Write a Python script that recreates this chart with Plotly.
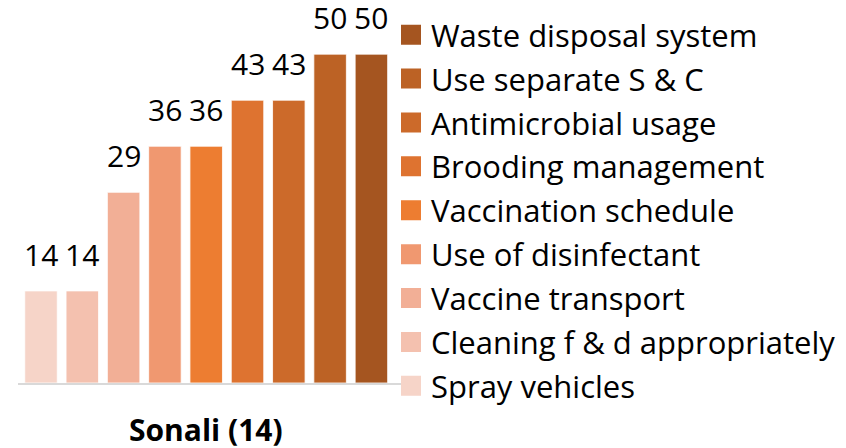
import plotly.graph_objects as go

practices = ["Spray vehicles", "Cleaning f & d appropriately", "Vaccine transport",
             "Use of disinfectant", "Vaccination schedule", "Brooding management",
             "Antimicrobial usage", "Use separate S & C", "Waste disposal system"]
values = [14, 14, 29, 36, 36, 43, 43, 50, 50]
colors = ["#F6D4C8", "#F4C1AF", "#F2AF96", "#F09870", "#ED7D31",
          "#DE7330", "#CC6A2A", "#BC6225", "#A55520"]
group_label = "Sonali (14)"

FONT = "Open Sans"
W, H = 838, 440
ml, mr, mt, mb = 10, 443, 0, 65.4
PH = H - mt - mb
PW = W - ml - mr

fig = go.Figure()
for name, v, c in zip(practices, values, colors):
    fig.add_trace(go.Bar(x=[name], y=[v], name=name, marker_color=c,
                         marker_line_color="rgba(255,255,255,0.8)", marker_line_width=1,
                         showlegend=False))

# legend entries (top: last practice)
for name, c in zip(practices[::-1], colors[::-1]):
    fig.add_trace(go.Scatter(x=[None], y=[None], mode="markers", name=name,
                             legendgroup=name,
                             marker=dict(symbol="square", size=16, color=c,
                                         line=dict(color=c, width=4))))

for name, v in zip(practices, values):
    fig.add_annotation(x=name, y=v, text=str(v), showarrow=False, yanchor="bottom",
                       yshift=14, font=dict(family=FONT, size=30, color="#000000"))

fig.add_annotation(x=(len(practices) - 1) / 2, xref="x", y=0, yref="y", yanchor="top",
                   yshift=-24, text="<b>" + group_label + "</b>", showarrow=False,
                   font=dict(family=FONT, size=30, color="#000000"))

fig.add_annotation(x=(250 - ml) / PW, xref="paper", y=1, yref="paper",
                   yanchor="bottom", yshift=-4, text="<b>(%)</b>", showarrow=False,
                   font=dict(family=FONT, size=30, color="#000000"))

fig.update_layout(
    width=W, height=H,
    margin=dict(l=ml, r=mr, t=mt, b=mb, autoexpand=False),
    paper_bgcolor="white", plot_bgcolor="white",
    bargap=0.213, barmode="overlay",
    font=dict(family=FONT, size=31, color="#000000"),
    xaxis=dict(range=[-0.557, 8.765], showticklabels=False, ticks="", showgrid=False,
               zeroline=False, showline=True, linecolor="#D9D9D9", linewidth=2),
    yaxis=dict(range=[0, PH / 6.57], visible=False),
    legend=dict(x=(383 - ml) / PW, xanchor="left", y=1, yanchor="top",
                traceorder="grouped", tracegroupgap=0.6, maxheight=440,
                font=dict(family=FONT, size=31, color="#000000"),
                bgcolor="rgba(0,0,0,0)", borderwidth=0),
)

fig.write_html("out.html")
